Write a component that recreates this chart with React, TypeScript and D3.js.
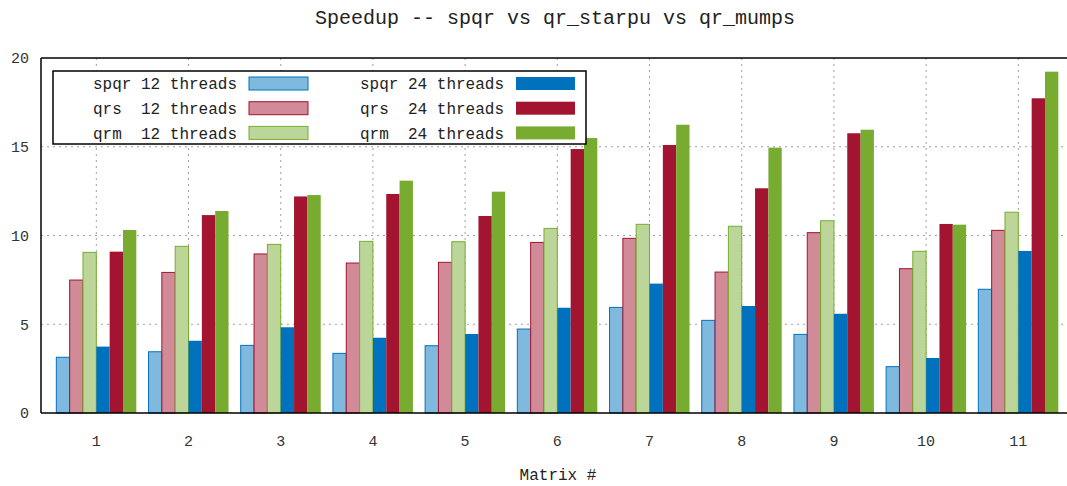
import React from "react";
import * as d3 from "d3";

const categories = [1, 2, 3, 4, 5, 6, 7, 8, 9, 10, 11];
const spqr12 = [3.14, 3.45, 3.81, 3.36, 3.79, 4.73, 5.95, 5.22, 4.43, 2.61, 6.97];
const qrs12 = [7.49, 7.92, 8.96, 8.45, 8.49, 9.61, 9.84, 7.94, 10.16, 8.13, 10.29];
const qrm12 = [9.05, 9.39, 9.5, 9.67, 9.65, 10.4, 10.63, 10.52, 10.83, 9.11, 11.31];
const spqr24 = [3.74, 4.07, 4.83, 4.24, 4.45, 5.93, 7.29, 6.03, 5.59, 3.1, 9.13];
const qrs24 = [9.09, 11.15, 12.2, 12.34, 11.1, 14.87, 15.1, 12.66, 15.76, 10.65, 17.73];
const qrm24 = [10.31, 11.38, 12.28, 13.09, 12.47, 15.49, 16.24, 14.95, 15.96, 10.61, 19.23];
const yTicks = [0, 5, 10, 15, 20];

const series = [
  { label: "spqr 12 threads", values: spqr12, color: "#0072bd", light: true },
  { label: "qrs  12 threads", values: qrs12, color: "#a2142f", light: true },
  { label: "qrm  12 threads", values: qrm12, color: "#77ac30", light: true },
  { label: "spqr 24 threads", values: spqr24, color: "#0072bd", light: false },
  { label: "qrs  24 threads", values: qrs24, color: "#a2142f", light: false },
  { label: "qrm  24 threads", values: qrm24, color: "#77ac30", light: false },
];

const W = 1067;
const H = 486;
const left = 41;
const top = 58;
const bottom = 413;
const step = 92.2;
const FONT = "'Liberation Mono', 'Courier New', monospace";

export default function App() {
  const x = d3.scaleLinear().domain([0.4, 11.6]).range([left, left + 11.2 * step]);
  const y = d3.scaleLinear().domain([0, 20]).range([bottom, top]);
  const bw = 0.1446;

  const lightFill = (c: string) => {
    const col = d3.rgb(c);
    return d3.rgb(
      Math.round(col.r * 0.5 + 127.5),
      Math.round(col.g * 0.5 + 127.5),
      Math.round(col.b * 0.5 + 127.5)
    ).formatHex();
  };

  const legendRows = [83.5, 108.2, 132.9];

  return (
    <svg width={W} height={H} style={{ position: "absolute", left: 0, top: 0, background: "#fff" }}>
      {/* title */}
      <text x={555} y={24} textAnchor="middle" fontFamily={FONT} fontSize={20} fill="#222" style={{ whiteSpace: "pre" }}>
        Speedup -- spqr vs qr_starpu vs qr_mumps
      </text>
      {/* grid */}
      {yTicks.filter((t) => t > 0 && t < 20).map((t) => (
        <line key={"gy" + t} x1={left} x2={W} y1={y(t)} y2={y(t)} stroke="#a0a0a0" strokeWidth={1} strokeDasharray="2,4" />
      ))}
      {categories.map((c) => (
        <line key={"gx" + c} x1={x(c)} x2={x(c)} y1={top} y2={bottom} stroke="#a0a0a0" strokeWidth={1} strokeDasharray="2,4" />
      ))}
      {/* bars */}
      {series.map((s, si) =>
        s.values.map((v, ci) => {
          const c = categories[ci];
          const x0 = x(c + (si - 3) * bw);
          const x1 = x(c + (si - 2) * bw);
          return (
            <rect
              key={si + "-" + ci}
              x={x0}
              y={y(v)}
              width={x1 - x0}
              height={y(0) - y(v)}
              fill={s.light ? lightFill(s.color) : s.color}
              stroke={s.light ? s.color : "none"}
              strokeWidth={1}
            />
          );
        })
      )}
      {/* frame */}
      <line x1={left} x2={W} y1={top} y2={top} stroke="#000" strokeWidth={1.5} />
      <line x1={left} x2={W} y1={bottom} y2={bottom} stroke="#000" strokeWidth={1.5} />
      <line x1={left} x2={left} y1={top} y2={bottom} stroke="#000" strokeWidth={1.5} />
      {/* y ticks */}
      {yTicks.map((t) => (
        <text key={"yt" + t} x={29} y={y(t)} dy="0.35em" textAnchor="end" fontFamily={FONT} fontSize={15} fill="#333">
          {t}
        </text>
      ))}
      {/* x ticks */}
      {categories.map((c) => (
        <text key={"xt" + c} x={x(c)} y={441} dy="0.35em" textAnchor="middle" fontFamily={FONT} fontSize={15} fill="#333">
          {c}
        </text>
      ))}
      <text x={558} y={474} dy="0.35em" textAnchor="middle" fontFamily={FONT} fontSize={16} fill="#222">
        Matrix #
      </text>
      {/* legend */}
      <rect x={53} y={71} width={533} height={73} fill="#fff" stroke="#000" strokeWidth={1.5} />
      {series.map((s, i) => {
        const col = Math.floor(i / 3);
        const row = i % 3;
        const ty = legendRows[row];
        const tx = col === 0 ? 237 : 504;
        const sx = col === 0 ? 249 : 516;
        return (
          <g key={"lg" + i}>
            <text x={tx} y={ty} dy="0.35em" textAnchor="end" fontFamily={FONT} fontSize={16} fill="#222" style={{ whiteSpace: "pre" }}>
              {s.label}
            </text>
            <rect
              x={sx}
              y={ty - 6.5}
              width={59}
              height={13}
              fill={s.light ? lightFill(s.color) : s.color}
              stroke={s.light ? s.color : "none"}
              strokeWidth={1}
            />
          </g>
        );
      })}
    </svg>
  );
}
